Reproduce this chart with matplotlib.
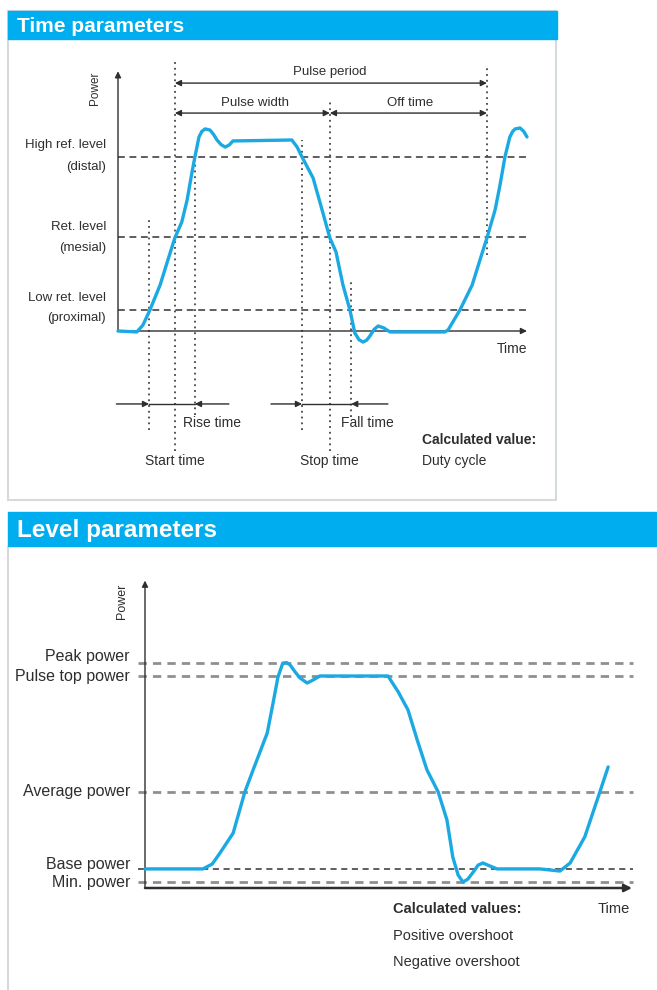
import matplotlib
matplotlib.use('Agg')
import matplotlib.pyplot as plt
from matplotlib.patches import Rectangle

plt.rcParams['font.family'] = ['Liberation Sans', 'DejaVu Sans']

BLUE = '#00aeef'
WAVE = '#1ba9e3'
INK = '#2e2e2e'

# ---- Time parameters panel (time 0..100, power in % of pulse top) ----
t_time = [0, 4.6, 6.1, 7.8, 10.3, 12.2, 13.9, 15.6, 16.9, 18.1, 18.8, 19.8, 20.5, 21.3, 22.5,
          23.4, 24.2, 25.2, 26.2, 27.2, 28.1, 42.5, 43.8, 45.0, 47.7, 49.9, 51.8, 53.3, 55.0,
          56.7, 57.9, 58.9, 59.9, 60.8, 61.6, 62.6, 63.6, 65.0, 66.5, 79.9, 80.7, 83.6, 86.6,
          88.5, 90.2, 92.2, 93.4, 94.6, 95.8, 96.5, 97.1, 98.3, 99.2, 100.0]
p_time = [0, -0.5, 3.1, 11, 24.1, 37.2, 48.7, 57.1, 68.6, 83.2, 91.1, 101.6, 104.5, 105.8, 105.2,
          102.8, 100, 97.6, 96.3, 97.4, 99.5, 100, 96.3, 91.1, 80.1, 63.4, 48.7, 41.4, 24.1,
          11, -1, -4.5, -5.8, -4.8, -2.6, 0.8, 2.6, 1.6, -0.5, -0.5, 0.5, 11, 24.1,
          37.2, 48.7, 63.4, 76.4, 91.1, 101.6, 104.5, 105.8, 106.3, 104.5, 101.6]
ref_levels = [91, 49, 11]
ref_labels = [('High ref. level', '(distal)'), ('Ret. level', '(mesial)'),
              ('Low ret. level', '(proximal)')]
# dotted markers: time, top, bottom (power units)
mark_t = [7.6, 13.9, 18.8, 45.0, 51.8, 57.0, 90.2]
mark_top = [58, 142, 91, 100, 120, 27, 138]
mark_bot = [-52, -63, -44, -52, -63, -45, 40]

# ---- Level parameters panel ----
t_lvl = [0, 11.9, 13.8, 15.4, 18.1, 20.5, 22.2, 25.1, 26.3, 27.3, 28.3, 29.1, 29.8, 30.8,
         31.8, 33.3, 34.5, 35.9, 48.3, 49.9, 52.0, 54.0, 55.9, 57.9, 60.2, 62.0, 63.2, 64.3,
         65.3, 66.3, 67.4, 68.4, 69.4, 70.8, 72.3, 81.1, 85.2, 87.3, 90.3, 93.4, 95.1]
p_lvl = [9, 9, 11.3, 16.5, 25.9, 45.3, 55.7, 73.1, 87.3, 99.5, 106.1, 106.3, 105.2, 102.0,
         99.1, 96.7, 98.1, 100, 100, 100, 92.5, 84.0, 69.8, 55.7, 45.3, 32.1, 14.6, 6.1,
         2.8, 4.2, 7.5, 10.8, 11.8, 10.4, 9, 9, 8, 11.8, 24.1, 45.3, 57.1]
lvl_names = ['Peak power', 'Pulse top power', 'Average power', 'Base power', 'Min. power']
lvl_values = [106.1, 100, 45.3, 9.0, 2.8]
lvl_label_y = [109, 100, 45.3, 11.3, 2.4]

W, H = 657, 990
fig = plt.figure(figsize=(W / 100, H / 100), dpi=100)
bg = fig.add_axes([0, 0, 1, 1])
bg.set_xlim(0, W); bg.set_ylim(H, 0); bg.axis('off')

# panel frames and headers
bg.add_patch(Rectangle((8, 11), 548, 489, fill=False, ec='#d5dadd', lw=1.5))
bg.add_patch(Rectangle((8, 11), 549, 28, color=BLUE))
bg.text(17, 27, 'Time parameters', color='white', fontsize=15, fontweight='bold',
        va='center')
bg.add_patch(Rectangle((8, 546), 700, 500, fill=False, ec='#d5dadd', lw=1.5))
bg.add_patch(Rectangle((8, 512), 660, 34, color=BLUE))
bg.text(17, 531, 'Level parameters', color='white', fontsize=17.5, fontweight='bold',
        va='center')


def px_axes(x0, x1, ytop, ybot):
    return fig.add_axes([x0 / W, 1 - ybot / H, (x1 - x0) / W, (ybot - ytop) / H])


def harrow(ax, x0, x1, y, style, lw=1.0, ms=9):
    ax.annotate('', xy=(x1, y), xytext=(x0, y), annotation_clip=False,
                arrowprops=dict(arrowstyle=style, color=INK, lw=lw,
                                shrinkA=0, shrinkB=0, mutation_scale=ms))


# ---------------- top panel ----------------
ax = px_axes(118, 527, 140, 331)
ax.set_xlim(0, 100); ax.set_ylim(0, 100); ax.axis('off')

ax.annotate('', xy=(0, 136), xytext=(0, 0), annotation_clip=False,
            arrowprops=dict(arrowstyle='-|>', color=INK, lw=1.0, shrinkA=0, shrinkB=0,
                            mutation_scale=9))
harrow(ax, 0, 100, 0, '-|>')
ax.text(-5.6, 127, 'Power', rotation=90, ha='center', va='center', fontsize=8.5, color=INK)
ax.text(96.3, -9.4, 'Time', ha='center', va='center', fontsize=10, color=INK)

label_y = [(97.4, 85.9), (54.5, 43.5), (17.3, 6.8)]
for lv, (l1, l2), (y1, y2) in zip(ref_levels, ref_labels, label_y):
    ax.plot([0, 100], [lv, lv], color='#333333', lw=1.1, ls=(0, (4.5, 3)), clip_on=False)
    ax.text(-2.9, y1, l1, ha='right', va='center', fontsize=9.5, color=INK)
    ax.text(-2.9, y2, l2, ha='right', va='center', fontsize=9.5, color=INK)

for t, a, b in zip(mark_t, mark_top, mark_bot):
    ax.plot([t, t], [b, a], color='#444444', lw=1.3, ls=(0, (1, 2.2)), clip_on=False)

ax.plot(t_time, p_time, color=WAVE, lw=2.4, solid_joinstyle='round',
        solid_capstyle='round', clip_on=False, zorder=5)

# duration arrows above
harrow(ax, mark_t[1], mark_t[6], 129.8, '<|-|>')
harrow(ax, mark_t[1], mark_t[4], 114.1, '<|-|>')
harrow(ax, mark_t[4], mark_t[6], 114.1, '<|-|>')
ax.text(51.8, 135.6, 'Pulse period', ha='center', va='center', fontsize=9.5, color=INK)
ax.text(33.5, 119.4, 'Pulse width', ha='center', va='center', fontsize=9.5, color=INK)
ax.text(71.5, 119.4, 'Off time', ha='center', va='center', fontsize=9.5, color=INK)

# rise / fall arrows below
harrow(ax, -0.4, mark_t[0], -38.2, '-|>')
harrow(ax, 27.1, mark_t[2], -38.2, '-|>')
ax.plot([mark_t[0], mark_t[2]], [-38.2, -38.2], color=INK, lw=1.0, clip_on=False)
harrow(ax, 37.4, mark_t[3], -38.2, '-|>')
harrow(ax, 66.0, mark_t[5], -38.2, '-|>')
ax.plot([mark_t[3], mark_t[5]], [-38.2, -38.2], color=INK, lw=1.0, clip_on=False)

ax.text(15.9, -48.2, 'Rise time', ha='left', va='center', fontsize=10, color=INK)
ax.text(54.5, -48.2, 'Fall time', ha='left', va='center', fontsize=10, color=INK)
ax.text(13.9, -68.1, 'Start time', ha='center', va='center', fontsize=10, color=INK)
ax.text(51.8, -68.1, 'Stop time', ha='center', va='center', fontsize=10, color=INK)
ax.text(74.3, -57.1, 'Calculated value:', ha='left', va='center', fontsize=10,
        fontweight='bold', color=INK)
ax.text(74.3, -68.1, 'Duty cycle', ha='left', va='center', fontsize=10, color=INK)

# ---------------- bottom panel ----------------
bx = px_axes(145, 632, 676, 888)
bx.set_xlim(0, 100); bx.set_ylim(0, 100); bx.axis('off')

bx.annotate('', xy=(0, 145), xytext=(0, 0), annotation_clip=False,
            arrowprops=dict(arrowstyle='-|>', color=INK, lw=1.0, shrinkA=0, shrinkB=0,
                            mutation_scale=9))
harrow(bx, 0, 100, 0, '-|>', lw=1.8, ms=11)
bx.text(-4.7, 135, 'Power', rotation=90, ha='center', va='center', fontsize=9, color=INK)

for name, lv, ly in zip(lvl_names, lvl_values, lvl_label_y):
    if name == 'Base power':
        bx.plot([-1.4, 100.2], [lv, lv], color='#333333', lw=1.1, ls=(0, (4, 3)),
                clip_on=False)
    else:
        bx.plot([-1.4, 100.2], [lv, lv], color='#8f8f8f', lw=2.0, ls=(0, (3, 2.2)),
                clip_on=False)
    bx.text(-3.1, ly, name, ha='right', va='center', fontsize=11.5, color=INK)

bx.plot(t_lvl, p_lvl, color=WAVE, lw=2.4, solid_joinstyle='round',
        solid_capstyle='round', clip_on=False, zorder=5)

bx.text(50.9, -9.9, 'Calculated values:', ha='left', va='center', fontsize=10.5,
        fontweight='bold', color=INK)
bx.text(93.0, -9.9, 'Time', ha='left', va='center', fontsize=10.5, color=INK)
bx.text(50.9, -22.6, 'Positive overshoot', ha='left', va='center', fontsize=10.5, color=INK)
bx.text(50.9, -34.9, 'Negative overshoot', ha='left', va='center', fontsize=10.5, color=INK)

plt.savefig('out.png', dpi=100)
